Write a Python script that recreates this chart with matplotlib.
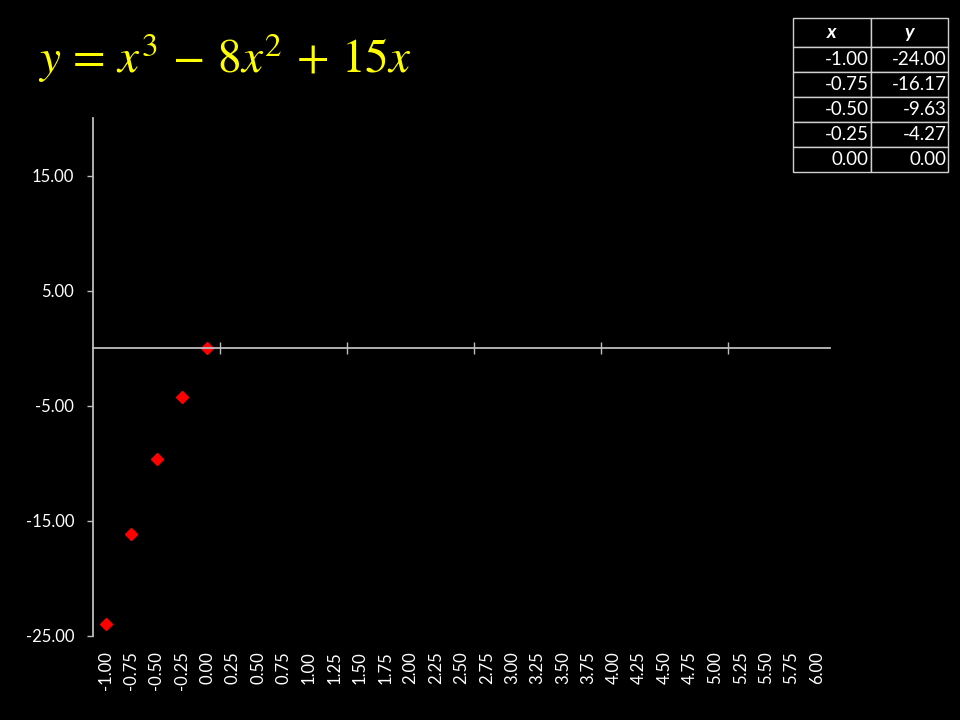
"""
Cubic y = x^3 - 8x^2 + 15x, first points plotted on a category axis,
with a small value table in the corner (black slide style).
"""

import matplotlib
matplotlib.use('Agg')
import matplotlib.pyplot as plt

# Data
x_values = [-1.00, -0.75, -0.50, -0.25, 0.00]
y_values = [-24.00, -16.17, -9.63, -4.27, 0.00]

categories = ['-1.00', '-0.75', '-0.50', '-0.25', '0.00', '0.25', '0.50', '0.75',
              '1.00', '1.25', '1.50', '1.75', '2.00', '2.25', '2.50', '2.75',
              '3.00', '3.25', '3.50', '3.75', '4.00', '4.25', '4.50', '4.75',
              '5.00', '5.25', '5.50', '5.75', '6.00']
y_ticks = [-25, -15, -5, 5, 15]
y_range = (-25, 20)

AXIS_COLOR = '#BDBDBD'
TEXT_COLOR = 'white'
POINT_COLOR = '#FF0000'
TITLE_COLOR = '#FFFF00'

plt.rcParams['font.family'] = ['Lato', 'DejaVu Sans']
plt.rcParams['mathtext.fontset'] = 'stix'

fig = plt.figure(figsize=(9.6, 7.2), dpi=100, facecolor='black')
ax = fig.add_axes([93 / 960, 1 - 636 / 720, 736.6 / 960, 518 / 720])
ax.set_facecolor('black')

# Points are placed on their category slot
cat_index = {float(c): i for i, c in enumerate(categories)}
px = [cat_index[round(v, 2)] for v in x_values]
ax.plot(px, y_values, linestyle='none', marker='D', markersize=6,
        color=POINT_COLOR, markeredgecolor=POINT_COLOR)

ax.set_xlim(-0.5, len(categories) - 0.5)
ax.set_ylim(*y_range)

# Spines: vertical axis on the left, horizontal axis crossing at y = 0
for side in ('top', 'right'):
    ax.spines[side].set_visible(False)
ax.spines['left'].set_color(AXIS_COLOR)
ax.spines['left'].set_linewidth(1.3)
ax.spines['bottom'].set_position(('data', 0))
ax.spines['bottom'].set_color(AXIS_COLOR)
ax.spines['bottom'].set_linewidth(1.3)

# Y ticks
ax.set_yticks(y_ticks)
ax.set_yticklabels([f'{v:.2f}' for v in y_ticks])
ax.tick_params(axis='y', colors=AXIS_COLOR, labelcolor=TEXT_COLOR,
               direction='out', length=4.5, width=1.0, pad=9, labelsize=12)

# Cross ticks on the zero line, every 5 categories (at slot boundaries)
ax.set_xticks([i + 0.5 for i in range(4, len(categories) - 1, 5)])
ax.tick_params(axis='x', colors=AXIS_COLOR, direction='inout',
               length=8.5, width=1.0, labelbottom=False)

# Category labels sit at the bottom of the plot area
sec = ax.secondary_xaxis(0)
sec.set_xticks(range(len(categories)))
sec.set_xticklabels(categories, rotation=90, va='top', ha='center')
sec.tick_params(axis='x', length=0, pad=11, labelsize=12, labelcolor=TEXT_COLOR)
sec.spines['bottom'].set_visible(False)

# Equation title
fig.text(38 / 960, 1 - 73 / 720, r'$y\,=\,x^3\,-\,8x^2\,+\,15x$',
         color=TITLE_COLOR, fontsize=34, ha='left', va='baseline')

# Value table, top right
tax = fig.add_axes([793 / 960, 1 - 172 / 720, 155 / 960, 154 / 720])
tax.axis('off')
cells = [[f'{x:.2f}', f'{y:.2f}'] for x, y in zip(x_values, y_values)]
table = tax.table(cellText=cells, colLabels=['x', 'y'], bbox=[0, 0, 1, 1],
                  cellLoc='right', colLoc='center')
table.auto_set_font_size(False)
for (r, c), cell in table.get_celld().items():
    cell.set_facecolor('black')
    cell.set_edgecolor('#D0D0D0')
    cell.set_linewidth(1.0)
    cell.PAD = 0.02
    cell.set_height(29 if r == 0 else 25)
    txt = cell.get_text()
    txt.set_color(TEXT_COLOR)
    txt.set_fontsize(13.5)
    if r == 0:
        txt.set_fontsize(14)
        txt.set_fontweight('bold')
        txt.set_fontstyle('italic')

fig.savefig('out.png', dpi=100, facecolor='black')
plt.close(fig)
